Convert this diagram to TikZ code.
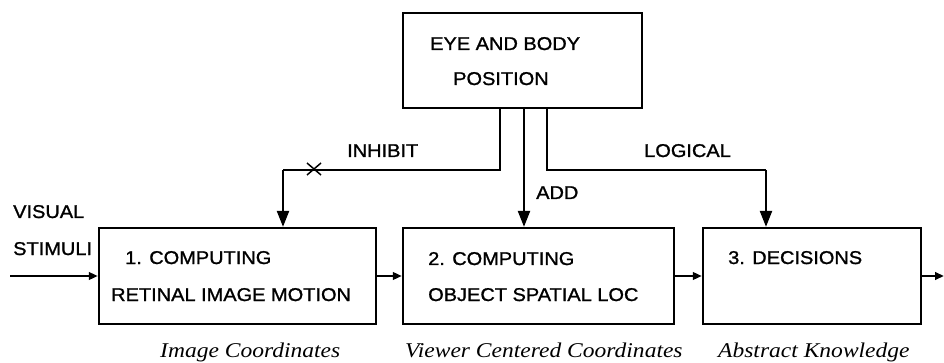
\documentclass[tikz,border=0pt]{standalone}
\usepackage{fontspec}
\setmainfont{Liberation Sans}
\newfontfamily\lblfont[FakeStretch=1.08,FakeBold=1.2]{Liberation Sans}
\newfontfamily\capfont[FakeStretch=1.12]{Liberation Serif}
\usetikzlibrary{arrows.meta,calc}
\begin{document}
\begin{tikzpicture}[x=1pt,y=-1pt,
  boxnode/.style={draw,line width=2.3pt,rectangle,inner sep=0pt},
  lbl/.style={anchor=base west,inner sep=0pt,font=\lblfont\fontsize{18.5}{22}\selectfont},
  captxt/.style={anchor=base west,inner sep=0pt,font=\capfont\itshape\fontsize{21}{25}\selectfont},
  bigarrow/.style={line width=2.3pt,-{Triangle[length=16pt,width=12pt]}},
  smallarrow/.style={line width=2.3pt,-{Triangle[length=9pt,width=7.5pt]}},
  link/.style={line width=2.3pt}]
\useasboundingbox (0,0) rectangle (944,363);
% boxes
\node[boxnode,minimum width=239pt,minimum height=95pt] (top) at (522.5,60.5) {};
\node[boxnode,minimum width=277pt,minimum height=96pt] (box1) at (237.5,276) {};
\node[boxnode,minimum width=271pt,minimum height=96pt] (box2) at (538.5,276) {};
\node[boxnode,minimum width=218pt,minimum height=96pt] (box3) at (812,276) {};
% texts
\node[lbl] (t1) at (430,50) {EYE AND BODY};
\node[lbl] (t2) at (453,85) {POSITION};
\node[lbl] (inh) at (347,157) {INHIBIT};
\node[lbl] (log) at (644,157) {LOGICAL};
\node[lbl] (add) at (536,199) {ADD};
\node[lbl] (vis) at (13,218) {VISUAL};
\node[lbl] (sti) at (13,255) {STIMULI};
\node[lbl] (b1a) at (125,264) {1. COMPUTING};
\node[lbl] (b1b) at (111,301) {RETINAL IMAGE MOTION};
\node[lbl] (b2a) at (428,265) {2. COMPUTING};
\node[lbl] (b2b) at (428,301) {OBJECT SPATIAL LOC};
\node[lbl] (b3a) at (728,264) {3. DECISIONS};
\node[captxt] (c1) at (160,357.5) {Image Coordinates};
\node[captxt] (c2) at (405,357.5) {Viewer Centered Coordinates};
\node[captxt] (c3) at (718,357.5) {Abstract Knowledge};
% bend coordinates
\coordinate (iA) at (500,170);
\coordinate (iB) at (283,170);
\coordinate (aX) at (524,170);
\coordinate (lA) at (547,170);
\coordinate (lB) at (766,170);
\coordinate (inp) at (10,276);
\coordinate (outp) at (944,276);
\coordinate (xm) at (314,169);
% connectors
\draw[link] (top.south -| iA) -- (iA) -- (iB);
\draw[bigarrow] (iB) -- (box1.north -| iB);
\draw[bigarrow] (top.south -| aX) -- (box2.north -| aX);
\draw[link] (top.south -| lA) -- (lA) -- (lB);
\draw[bigarrow] (lB) -- (box3.north -| lB);
\draw[smallarrow] (inp) -- (box1.west);
\draw[smallarrow] (box1.east) -- (box2.west);
\draw[smallarrow] (box2.east) -- (box3.west);
\draw[smallarrow] (box3.east) -- (outp);
% inhibit cross
\draw[line width=1.5pt] ($(xm)+(-7,-6)$) -- ($(xm)+(7,6)$);
\draw[line width=1.5pt] ($(xm)+(-7,6)$) -- ($(xm)+(7,-6)$);
\end{tikzpicture}
\end{document}
